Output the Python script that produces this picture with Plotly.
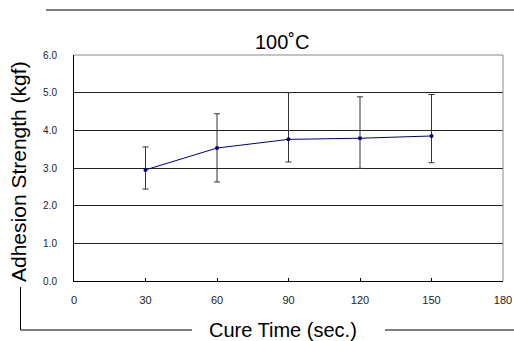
import plotly.graph_objects as go

cure_time = [30, 60, 90, 120, 150]
strength = [2.95, 3.53, 3.76, 3.79, 3.85]
err_upper = [3.56, 4.44, 5.00, 4.89, 4.95]
err_lower = [2.44, 2.63, 3.16, 2.99, 3.14]
x_ticks = [0, 30, 60, 90, 120, 150, 180]
y_ticks = [0, 1, 2, 3, 4, 5, 6]

plus = [u - v for u, v in zip(err_upper, strength)]
minus = [v - l for v, l in zip(strength, err_lower)]

L, R, T, B = 74, 11, 55, 60
W, H = 514, 341
pw, ph = W - L - R, H - T - B

def px(x):
    return (x - L) / pw

def py(y):
    return (H - B - y) / ph

fig = go.Figure()
fig.add_trace(go.Scatter(
    x=cure_time, y=strength, mode="lines+markers",
    line=dict(color="#000080", width=1),
    marker=dict(color="#000080", size=4),
    error_y=dict(type="data", symmetric=False, array=plus, arrayminus=minus,
                 color="#333333", thickness=1, width=3),
    showlegend=False,
))

shapes = [
    dict(type="line", xref="paper", yref="paper", x0=px(46), x1=px(514), y0=py(10), y1=py(10),
         line=dict(color="black", width=1)),
    dict(type="line", xref="paper", yref="paper", x0=0, x1=1, y0=1, y1=1,
         line=dict(color="#888888", width=1)),
    dict(type="line", xref="paper", yref="paper", x0=1, x1=1, y0=0, y1=1,
         line=dict(color="#888888", width=1)),
    dict(type="line", xref="paper", yref="paper", x0=px(20.5), x1=px(20.5), y0=py(287), y1=py(330),
         line=dict(color="black", width=1)),
    dict(type="line", xref="paper", yref="paper", x0=px(20.5), x1=px(192), y0=py(330), y1=py(330),
         line=dict(color="black", width=1)),
    dict(type="line", xref="paper", yref="paper", x0=px(385), x1=px(514), y0=py(330), y1=py(330),
         line=dict(color="black", width=1)),
]

annotations = [
    dict(text="100˚C", xref="paper", yref="paper", x=px(282), y=py(42),
         showarrow=False, font=dict(family="Arial", size=20, color="black"),
         xanchor="center", yanchor="middle"),
    dict(text="Adhesion Strength (kgf)", xref="paper", yref="paper", x=px(18), y=py(172),
         showarrow=False, textangle=-90, font=dict(family="Arial", size=21, color="black"),
         xanchor="center", yanchor="middle"),
    dict(text="Cure Time (sec.)", xref="paper", yref="paper", x=px(283), y=py(330),
         showarrow=False, font=dict(family="Arial", size=20, color="black"),
         xanchor="center", yanchor="middle"),
]

fig.update_layout(
    width=W, height=H,
    margin=dict(l=L, r=R, t=T, b=B, autoexpand=False),
    paper_bgcolor="white", plot_bgcolor="white",
    shapes=shapes, annotations=annotations,
    xaxis=dict(range=[0, 180], tickvals=x_ticks, ticktext=[str(v) for v in x_ticks],
               ticks="inside", ticklen=3, tickcolor="black", showgrid=False,
               showline=True, linecolor="black", linewidth=1, zeroline=False,
               tickfont=dict(family="Arial", size=11, color="#222222"),
               ticklabelstandoff=9, fixedrange=True, automargin=False),
    yaxis=dict(range=[0, 6], tickvals=y_ticks, ticktext=[f"{v:.1f}" for v in y_ticks],
               ticks="", showgrid=True, gridcolor="#222222", gridwidth=1,
               showline=True, linecolor="black", linewidth=1, zeroline=False,
               tickfont=dict(family="Arial", size=10, color="#222222"),
               ticklabelstandoff=14, fixedrange=True, automargin=False),
)

fig.write_html("out.html", config={"displayModeBar": False})
